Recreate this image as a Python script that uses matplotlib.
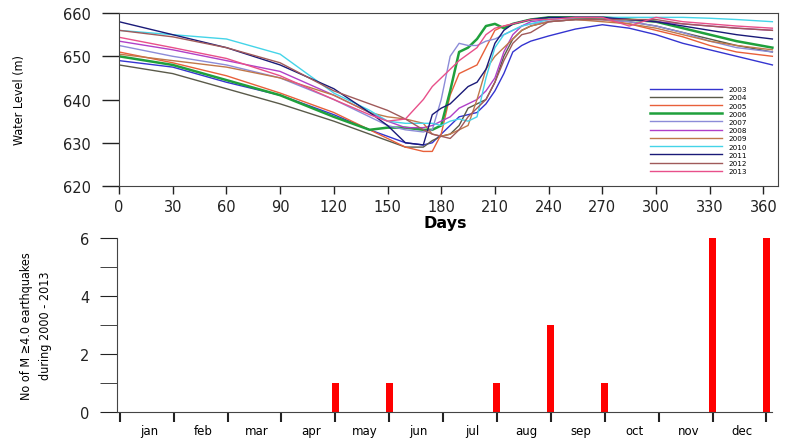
import matplotlib.pyplot as plt

days = [0, 30, 60, 90, 120, 140, 150, 160, 170, 175, 180, 185, 190, 195, 200,
        205, 210, 215, 220, 225, 230, 240, 255, 270, 285, 300, 315, 330, 345, 365]

wl_2003 = [649, 647.5, 644, 641, 636.5, 633, 631.5, 630, 629.5, 630, 632, 634, 636, 636.5, 637,
           639, 642, 646, 651, 652.5, 653.5, 654.7, 656.3, 657.3, 656.5, 655, 653, 651.5, 650, 648]
wl_2004 = [648, 646, 642.5, 639, 635, 632, 630.5, 629, 629, 630.5, 631.5, 632, 634, 638, 639,
           640, 644, 650, 654, 656, 657, 658, 658.5, 658.5, 658, 657, 655.5, 654, 652.5, 651]
wl_2005 = [651, 648.5, 645.5, 641.5, 637, 633, 631, 629, 628, 628, 632, 641, 646, 647, 648,
           652, 656, 657, 657.5, 658, 658.5, 659, 659, 658.5, 657.5, 656, 654.5, 652.5, 651, 650]
wl_2006 = [650, 648, 644.5, 641, 636, 633, 633.5, 633.5, 633, 633, 634, 642, 651, 652, 654,
           657, 657.5, 656.5, 657.5, 658, 658.5, 659, 659, 659, 658.5, 658, 656.5, 655, 653.5, 652]
wl_2007 = [652.5, 650, 648, 645, 640, 636, 634, 633, 632.5, 633, 640, 650, 653, 652.5, 652.5,
           653.5, 654, 655, 656, 657, 657.5, 658, 658.5, 658.5, 658, 657, 655.5, 653.5, 652, 651]
wl_2008 = [653.5, 651.5, 649, 646.5, 641, 637, 635, 633.5, 633.5, 634, 635, 636, 638, 639, 640,
           642, 645, 651, 655, 657, 658, 658.5, 659, 659, 658.5, 658, 657.5, 657, 656.5, 656]
wl_2009 = [650.5, 649, 647.5, 645, 641, 637, 636, 635.5, 634.5, 632, 631.5, 632, 633, 634, 640,
           647, 650, 652, 654, 656, 657, 658, 658.5, 658, 657.5, 656.5, 655, 653.5, 652.5, 651.5]
wl_2010 = [656, 655, 654, 650.5, 641.5, 637.5, 635, 634.5, 634.5, 634.5, 634, 635, 635.5, 635, 636,
           645, 652, 655, 656, 657, 657.5, 658.5, 659, 659, 659, 659, 659, 658.8, 658.5, 658]
wl_2011 = [658, 655, 652, 648, 642.5, 637, 634, 630, 629.5, 636.5, 638, 639, 641, 643, 644,
           647, 653, 656, 657.5, 658, 658.5, 659, 659, 659, 658.5, 658, 657, 656, 655, 654]
wl_2012 = [656, 654.5, 652, 648.5, 642, 639, 637.5, 635.5, 633, 632, 631.5, 631, 633, 636, 638,
           640, 644, 649, 653, 655, 655.5, 658, 658.5, 658.5, 658.5, 658.5, 657.5, 657, 656.5, 656]
wl_2013 = [654.4, 652, 649.5, 645.5, 640, 636.5, 635, 635.5, 640, 643, 645, 647, 649, 650.5, 652,
           655, 656.5, 657, 657.5, 658, 658.5, 658.5, 659, 659, 657, 659, 658, 657.5, 657, 656.5]

years = ["2003", "2004", "2005", "2006", "2007", "2008", "2009", "2010", "2011", "2012", "2013"]
levels = [wl_2003, wl_2004, wl_2005, wl_2006, wl_2007, wl_2008, wl_2009, wl_2010, wl_2011, wl_2012, wl_2013]
colors = ["#3434d0", "#5a5a4a", "#e8603a", "#1fa03c", "#8c8cd8", "#b040c8",
          "#c0784a", "#44d4e8", "#1a1a78", "#a05a5a", "#e8508a"]

# earthquakes per month (bar drawn at the month's end tick)
months = ["jan", "feb", "mar", "apr", "may", "jun", "jul", "aug", "sep", "oct", "nov", "dec"]
quakes = [0, 0, 0, 1, 1, 0, 1, 3, 1, 0, 6, 6]

narrow = ["Liberation Sans Narrow", "DejaVu Sans"]

fig = plt.figure(figsize=(7.88, 4.39), dpi=100)

# --- water level ---
ax1 = fig.add_axes([0.151, 0.574, 0.836, 0.394])
for yr, wl, c in zip(years, levels, colors):
    lw = 1.8 if yr == "2006" else 1.0
    ax1.plot(days, wl, color=c, lw=lw, label=yr)
ax1.set_xlim(0, 368)
ax1.set_ylim(620, 660)
ax1.set_xticks(range(0, 361, 30))
ax1.set_yticks(range(620, 661, 10))
ax1.tick_params(axis="y", direction="out", length=12, width=1, pad=8, labelsize=10.5, colors="#222222")
ax1.tick_params(axis="x", direction="out", length=6, width=1, pad=3, labelsize=10.5, colors="#222222")
for s in ax1.spines.values():
    s.set_color("#444444")
ax1.set_xlabel("Days", fontsize=11.5, fontweight="bold")
ax1.xaxis.set_label_coords(0.496, -0.165)
ax1.set_ylabel("Water Level (m)", fontsize=9, family=narrow, stretch="condensed", labelpad=27)
leg = ax1.legend(loc="lower right", bbox_to_anchor=(0.963, 0.03), frameon=False,
                 fontsize=5.2, handlelength=10, labelspacing=0.3, handletextpad=0.9)

# --- earthquakes ---
ax2 = fig.add_axes([0.1485, 0.059, 0.831, 0.396])
xpos = list(range(1, 13))
ax2.bar(xpos, quakes, width=0.13, color="red")
ax2.set_xlim(-0.05, 12.1)
ax2.set_ylim(0, 6)
ax2.spines["top"].set_visible(False)
ax2.spines["right"].set_visible(False)
ax2.spines["left"].set_color("#444444")
ax2.spines["bottom"].set_color("#444444")
ax2.set_yticks([0, 2, 4, 6])
ax2.set_yticks([1, 3, 5], minor=True)
ax2.set_xticks(range(0, 13))
ax2.set_xticklabels([])
ax2.tick_params(axis="y", which="both", direction="out", length=12, pad=8, labelsize=10.5, colors="#222222")
ax2.tick_params(axis="x", direction="out", length=7, width=1.5, colors="#222222")
for i, m in enumerate(months):
    ax2.text(i + 0.55, -0.105, m, transform=ax2.get_xaxis_transform(), ha="center", va="center",
             fontsize=8.5, clip_on=False)
ax2.set_ylabel("No of M \u22654.0 earthquakes\nduring 2000 - 2013", fontsize=9,
               family=narrow, stretch="condensed", labelpad=20, linespacing=1.6)

fig.savefig("out.png", dpi=100)
